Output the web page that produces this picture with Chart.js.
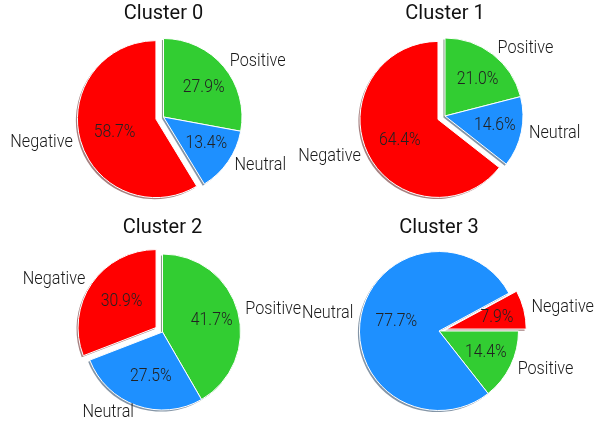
<!DOCTYPE html>
<html>
<head>
<meta charset="utf-8">
<script src="https://cdn.jsdelivr.net/npm/chart.js@4.4.1/dist/chart.umd.min.js"></script>
<style>
    html, body { margin: 0; padding: 0; background: #fff; }
    #wrap { position: relative; width: 597px; height: 437px; overflow: hidden; background: #fff; }
    #wrap canvas { position: absolute; }
</style>
</head>
<body>
<div id="wrap"></div>
<script>
// Sentiment share per cluster (percent)
const clusterNames = ['Cluster 0', 'Cluster 1', 'Cluster 2', 'Cluster 3'];
const sentimentLabels = ['Negative', 'Neutral', 'Positive'];
const negativeShare = [58.7, 64.4, 30.9, 7.9];
const neutralShare = [13.4, 14.6, 27.5, 77.7];
const positiveShare = [27.9, 21.0, 41.7, 14.4];
const sentimentColors = ['#ff0000', '#1e90ff', '#32cd32'];
const explodeFrac = [0.1, 0, 0];      // Negative slice pulled out
const startAngles = [90, 90, 90, 0];  // counter-clockwise from 3 o'clock

// panel placement (canvas box + pie geometry)
const panels = [
    { left: 0,   top: 0,   width: 327, height: 218, padTop: 2,   padBottom: 10,   radius: 78.5 },
    { left: 291, top: 0,   width: 308, height: 218, padTop: 2,   padBottom: 12,   radius: 78 },
    { left: 0,   top: 214, width: 325, height: 223, padTop: 1.5, padBottom: 12.5, radius: 78 },
    { left: 281, top: 214, width: 316, height: 223, padTop: 1.5, padBottom: 14.5, radius: 79.5 }
];

// the reference uses a light condensed face; squeeze a regular one horizontally
const LABEL_FONT = '300 18px Roboto, "Liberation Sans", sans-serif';
const LABEL_SQUEEZE = 0.9;
const PCT_FONT = '300 19px Roboto, "Liberation Sans", sans-serif';
const PCT_SQUEEZE = 0.83;
const PCT_SHIFT_X = 4;

function hexToRgb(hex) {
    const n = parseInt(hex.slice(1), 16);
    return [(n >> 16) & 255, (n >> 8) & 255, n & 255];
}

function squeezedText(ctx, text, x, y, squeeze) {
    ctx.save();
    ctx.translate(x, y);
    ctx.scale(squeeze, 1);
    ctx.fillText(text, 0, 0);
    ctx.restore();
}

// explode + drop shadow, drawn like a matplotlib pie
const explodeShadowPlugin = {
    id: 'explodeShadow',
    beforeDatasetDraw(chart, args) {
        const ctx = chart.ctx;
        const arcs = args.meta.data;
        const ds = chart.data.datasets[args.index];
        const shifts = arcs.map((el, i) => {
            const mid = (el.startAngle + el.endAngle) / 2;
            const d = ds.explode[i] * el.outerRadius;
            return [Math.cos(mid) * d, Math.sin(mid) * d];
        });
        // shadows first, under every wedge
        arcs.forEach((el, i) => {
            const rgb = hexToRgb(ds.backgroundColor[i]).map(c => Math.round(c * 0.3));
            const off = 0.02 * el.outerRadius;
            ctx.save();
            ctx.translate(shifts[i][0] - off, shifts[i][1] + off);
            ctx.beginPath();
            ctx.moveTo(el.x, el.y);
            ctx.arc(el.x, el.y, el.outerRadius, el.startAngle, el.endAngle);
            ctx.closePath();
            ctx.fillStyle = 'rgba(' + rgb.join(',') + ',0.5)';
            ctx.fill();
            ctx.restore();
        });
        arcs.forEach((el, i) => {
            ctx.save();
            ctx.translate(shifts[i][0], shifts[i][1]);
            el.draw(ctx);
            ctx.restore();
        });
        return false;
    },
    afterDatasetsDraw(chart) {
        const ctx = chart.ctx;
        const meta = chart.getDatasetMeta(0);
        const ds = chart.data.datasets[0];
        meta.data.forEach((el, i) => {
            const mid = (el.startAngle + el.endAngle) / 2;
            const r = el.outerRadius;
            const cx = el.x + Math.cos(mid) * ds.explode[i] * r;
            const cy = el.y + Math.sin(mid) * ds.explode[i] * r;
            ctx.save();
            ctx.textBaseline = 'middle';
            // category label
            ctx.font = LABEL_FONT;
            ctx.fillStyle = '#1a1a1a';
            ctx.textAlign = Math.cos(mid) > 0 ? 'left' : 'right';
            squeezedText(ctx, chart.data.labels[i], cx + Math.cos(mid) * 1.1 * r, cy + Math.sin(mid) * 1.1 * r, LABEL_SQUEEZE);
            // percentage
            ctx.font = PCT_FONT;
            ctx.fillStyle = '#222222';
            ctx.textAlign = 'center';
            squeezedText(ctx, ds.data[i].toFixed(1) + '%', cx + Math.cos(mid) * 0.6 * r + PCT_SHIFT_X, cy + Math.sin(mid) * 0.6 * r, PCT_SQUEEZE);
            ctx.restore();
        });
    }
};

const wrap = document.getElementById('wrap');

clusterNames.forEach((name, k) => {
    const p = panels[k];
    const canvas = document.createElement('canvas');
    canvas.width = p.width;
    canvas.height = p.height;
    canvas.style.left = p.left + 'px';
    canvas.style.top = p.top + 'px';
    canvas.style.width = p.width + 'px';
    canvas.style.height = p.height + 'px';
    wrap.appendChild(canvas);

    const shares = [negativeShare[k], neutralShare[k], positiveShare[k]];
    // Chart.js runs clockwise, matplotlib ran counter-clockwise: reverse the order
    const order = [2, 1, 0];

    new Chart(canvas, {
        type: 'pie',
        data: {
            labels: order.map(i => sentimentLabels[i]),
            datasets: [{
                data: order.map(i => shares[i]),
                backgroundColor: order.map(i => sentimentColors[i]),
                explode: order.map(i => explodeFrac[i]),
                borderColor: '#ffffff',
                borderWidth: 1
            }]
        },
        options: {
            responsive: false,
            animation: false,
            devicePixelRatio: 1,
            rotation: 90 - startAngles[k],
            radius: p.radius,
            layout: { padding: { top: 0, bottom: p.padBottom, left: 0, right: 0 } },
            plugins: {
                legend: { display: false },
                tooltip: { enabled: false },
                title: {
                    display: true,
                    text: name,
                    color: '#111111',
                    font: { family: 'Roboto, "Liberation Sans", sans-serif', size: 20, weight: 'normal', lineHeight: 1.2 },
                    padding: { top: p.padTop, bottom: 0 }
                }
            }
        },
        plugins: [explodeShadowPlugin]
    });
});
</script>
</body>
</html>
